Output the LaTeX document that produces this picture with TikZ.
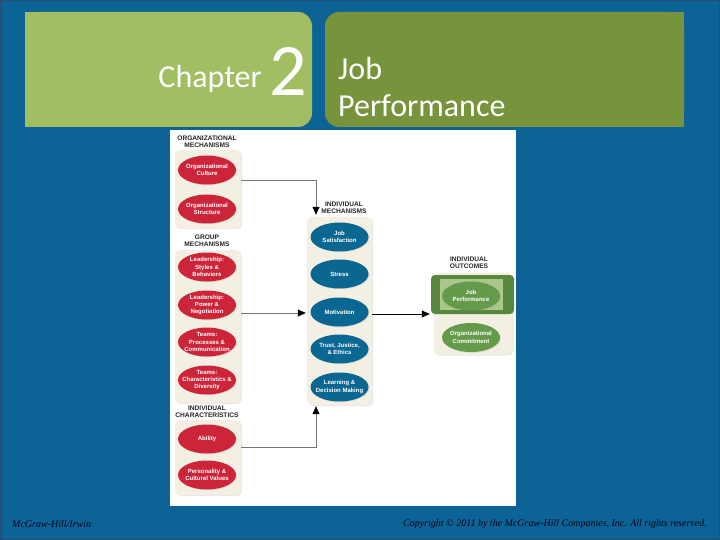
\documentclass[tikz,border=0pt]{standalone}
\usepackage{fontspec}
\setmainfont{Carlito}
\newfontfamily\serifit{Liberation Serif}
\newfontfamily\diag{Liberation Sans}
\usetikzlibrary{shapes.geometric,arrows.meta,shadows}
\definecolor{bgblue}{RGB}{14,99,150}
\definecolor{edgeblue}{RGB}{40,78,112}
\definecolor{lightgreen}{RGB}{161,190,98}
\definecolor{olive}{RGB}{119,148,60}
\definecolor{cream}{RGB}{243,239,226}
\definecolor{redov}{RGB}{204,36,56}
\definecolor{blueov}{RGB}{10,103,145}
\definecolor{greenov}{RGB}{100,155,75}
\definecolor{greenframe}{RGB}{88,135,64}
\definecolor{greenin}{RGB}{170,198,138}
\begin{document}
\begin{tikzpicture}[x=1pt,y=-1pt,
  cbox/.style={fill=cream, rounded corners=5pt, minimum width=66pt, inner sep=0pt,
     drop shadow={opacity=0.18, shadow xshift=1pt, shadow yshift=-1pt}},
  ov/.style={ellipse, minimum width=58pt, minimum height=29pt, inner xsep=-12pt, inner ysep=-6pt,
     align=center, text=white, font=\diag\bfseries\fontsize{6.0}{7.3}\selectfont,
     drop shadow={opacity=0.2, shadow xshift=0.8pt, shadow yshift=-0.8pt}},
  redo/.style={ov, fill=redov},
  blueo/.style={ov, fill=blueov},
  greeno/.style={ov, fill=greenov},
  hd/.style={font=\diag\bfseries\fontsize{6.6}{7}\selectfont, text=black!85, align=center, inner sep=0pt},
  gline/.style={draw=black!55, line width=0.7pt, -{Triangle[length=8pt,width=7pt,black]}},
  bline/.style={draw=black, line width=0.7pt, -{Triangle[length=8pt,width=7pt,black]}},
  foot/.style={font=\serifit\itshape\fontsize{10}{11}\selectfont, text=black!90!blue, inner sep=0pt}
]
\useasboundingbox (0,0) rectangle (720,540);
\fill[bgblue] (0,0) rectangle (720,540);
\draw[edgeblue, line width=1.5pt] (0.75,0.75) rectangle (719.25,539.25);
% header boxes
\fill[lightgreen, rounded corners=14pt] (25,12) rectangle (312,127);
\fill[lightgreen] (25,12) rectangle (100,127);
\fill[olive, rounded corners=14pt] (325,12) rectangle (684,127);
\fill[olive] (600,12) rectangle (684,127);
\node[anchor=base east, text=white, inner sep=0pt, font=\fontsize{32}{32}\selectfont] (chap) at (262,88) {Chapter};
\node[anchor=base west, text=white, inner sep=0pt, font=\fontsize{74}{74}\selectfont] (num) at (269,96) {2};
\node[anchor=base west, text=white, inner sep=0pt, font=\fontsize{32}{32}\selectfont] (job) at (338,80) {Job};
\node[anchor=base west, text=white, inner sep=0pt, font=\fontsize{32}{32}\selectfont] (perf) at (338,117) {Performance};
% white panel
\fill[white] (170,130) rectangle (516,506);
% left column
\node[hd] (hOrg) at (207,142) {ORGANIZATIONAL\\MECHANISMS};
\node[cbox, minimum height=78pt] (orgbox) at (208,189) {};
\node[redo] (oc) at (207,170) {Organizational\\Culture};
\node[redo] (os) at (207,209) {Organizational\\Structure};
\node[hd] (hGrp) at (207,241) {GROUP\\MECHANISMS};
\node[cbox, minimum height=153pt] (grpbox) at (208,326.5) {};
\node[redo] (ls) at (207,267) {Leadership:\\Styles \&\\Behaviors};
\node[redo] (lp) at (207,305) {Leadership:\\Power \&\\Negotiation};
\node[redo] (tp) at (207,342) {Teams:\\Processes \&\\Communication};
\node[redo] (tc) at (207,380) {Teams:\\Characteristics \&\\Diversity};
\node[hd] (hInd) at (207,412) {INDIVIDUAL\\CHARACTERISTICS};
\node[cbox, minimum height=75pt] (indbox) at (208,457.5) {};
\node[redo] (ab) at (207,439) {Ability};
\node[redo] (pc) at (207,475) {Personality \&\\Cultural Values};
% middle column
\node[hd] (hMid) at (344,208) {INDIVIDUAL\\MECHANISMS};
\node[cbox, minimum width=65pt, minimum height=188pt] (midbox) at (339.5,311) {};
\node[blueo] (js) at (339.5,237) {Job\\Satisfaction};
\node[blueo] (st) at (339.5,274) {Stress};
\node[blueo] (mo) at (339.5,312) {Motivation};
\node[blueo] (tr) at (339.5,349) {Trust, Justice,\\\& Ethics};
\node[blueo] (ld) at (339.5,387) {Learning \&\\Decision Making};
% right column
\node[hd] (hOut) at (469,263) {INDIVIDUAL\\OUTCOMES};
\node[cbox, minimum width=79pt, minimum height=82pt] (outbox) at (473,313.5) {};
\node[fill=greenframe, rounded corners=4pt, minimum width=83pt, minimum height=39pt, inner sep=0pt] (jpframe) at (472.5,294.5) {};
\node[fill=greenin, minimum width=63pt, minimum height=31pt, inner sep=0pt] (jpin) at (471.5,294.5) {};
\node[greeno] (jp) at (471,296) {Job\\Performance};
\node[greeno] (oco) at (471,337.5) {Organizational\\Commitment};
% connectors
\coordinate (k1) at (316,180);
\draw[gline, shorten >=2pt] (orgbox.east |- k1) -- (k1) -- (k1 |- midbox.north);
\coordinate (k2) at (0,313);
\draw[gline, shorten >=1pt] (grpbox.east |- k2) -- (midbox.west |- k2);
\coordinate (k3) at (316,447);
\draw[gline, shorten >=1pt] (indbox.east |- k3) -- (k3) -- (k3 |- midbox.south);
\coordinate (k4) at (0,314);
\draw[bline, shorten >=1pt] (midbox.east |- k4) -- (jpframe.west |- k4);
% footer
\node[foot, anchor=west] (mh) at (12,524) {McGraw-Hill/Irwin};
\node[foot, anchor=east] (cr) at (707,524) {Copyright © 2011 by the McGraw-Hill Companies, Inc. All rights reserved.};
\end{tikzpicture}
\end{document}
